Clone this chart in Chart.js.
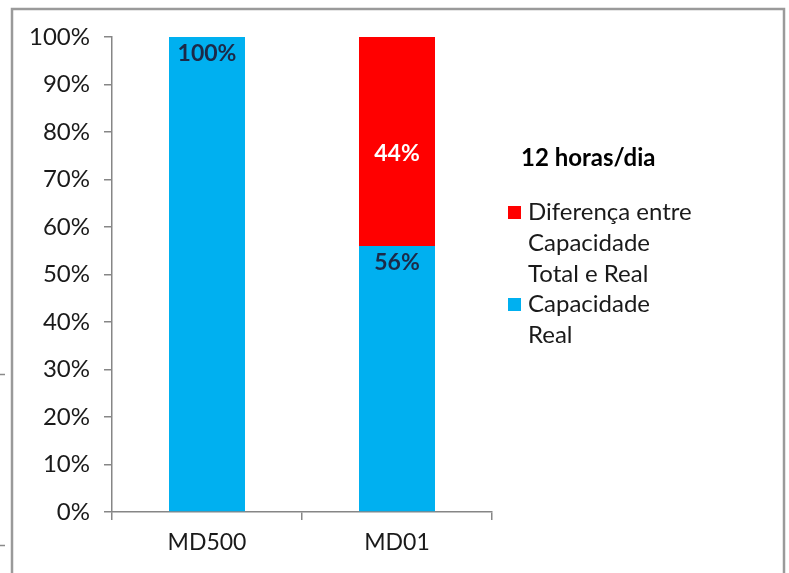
<!DOCTYPE html>
<html>
<head>
<meta charset="utf-8">
<script src="https://cdn.jsdelivr.net/npm/chart.js@4/dist/chart.umd.min.js"></script>
<style>
  html, body { margin: 0; padding: 0; background: #fff; }
  #wrap { width: 789px; height: 573px; position: relative; }
</style>
</head>
<body>
<div id="wrap"><canvas id="c" width="789" height="573"></canvas></div>
<script>
// Machines compared
const categories = ['MD500', 'MD01'];
// Real capacity used (%)
const realCapacity = [100, 56];
// Gap between total and real capacity (%)
const capacityGap = [0, 44];
// Y axis ticks (%)
const yTicks = [0, 10, 20, 30, 40, 50, 60, 70, 80, 90, 100];

const chartTitle = '12 horas/dia';
const legendLines = {
  gap: ['Diferença entre', 'Capacidade', 'Total e Real'],
  real: ['Capacidade', 'Real']
};

const FONT = 'Lato, "Open Sans", sans-serif';
const BLUE = '#00b0f0';
const RED = '#ff0000';
const AXIS = '#868686';

// White page with grey frame around the chart
const framePlugin = {
  id: 'frame',
  beforeDraw(chart) {
    const ctx = chart.ctx;
    ctx.save();
    ctx.fillStyle = '#fff';
    ctx.fillRect(0, 0, chart.width, chart.height);
    ctx.strokeStyle = '#9a9a9a';
    ctx.lineWidth = 2.5;
    ctx.strokeRect(12, 9, 772, 620);
    ctx.lineWidth = 1.5;
    ctx.strokeStyle = '#8a8a8a';
    ctx.beginPath();
    ctx.moveTo(0, 374.5); ctx.lineTo(5, 374.5);
    ctx.moveTo(0, 545.5); ctx.lineTo(5, 545.5);
    ctx.stroke();
    ctx.restore();
  }
};

// Value labels drawn inside the bars
const valueLabelPlugin = {
  id: 'valueLabels',
  afterDatasetsDraw(chart) {
    const ctx = chart.ctx;
    ctx.save();
    ctx.font = 'bold 23px ' + FONT;
    ctx.textAlign = 'center';
    ctx.textBaseline = 'middle';
    chart.data.datasets.forEach((ds, di) => {
      const meta = chart.getDatasetMeta(di);
      meta.data.forEach((el, i) => {
        const v = ds.data[i];
        if (!v) return;
        let y;
        if (ds.labelAnchor === 'end') {
          y = el.y + 17;
        } else {
          y = (el.y + el.base) / 2 + 12;
        }
        ctx.fillStyle = ds.labelColor;
        ctx.fillText(v + '%', el.x, y);
      });
    });
    ctx.restore();
  }
};

// Title and wrapped legend to the right of the plot
const sideLegendPlugin = {
  id: 'sideLegend',
  afterDraw(chart) {
    const ctx = chart.ctx;
    ctx.save();
    ctx.textBaseline = 'middle';
    ctx.textAlign = 'left';
    ctx.fillStyle = '#000';
    ctx.font = 'bold 24px ' + FONT;
    ctx.fillText(chartTitle, 521, 158);

    ctx.font = '24px ' + FONT;
    const ds = chart.data.datasets;
    const items = [
      { color: ds[1].backgroundColor, lines: legendLines.gap, y: 212 },
      { color: ds[0].backgroundColor, lines: legendLines.real, y: 304 }
    ];
    items.forEach(it => {
      ctx.fillStyle = it.color;
      ctx.fillRect(508, it.y - 6, 13, 13);
      ctx.fillStyle = '#1a1a1a';
      it.lines.forEach((t, k) => ctx.fillText(t, 528, it.y + k * 31));
    });
    ctx.restore();
  }
};

new Chart(document.getElementById('c'), {
  type: 'bar',
  data: {
    labels: categories,
    datasets: [
      {
        label: 'Capacidade Real',
        data: realCapacity,
        backgroundColor: BLUE,
        labelColor: '#1c2a48',
        labelAnchor: 'end',
        barPercentage: 0.4,
        categoryPercentage: 1.0
      },
      {
        label: 'Diferença entre Capacidade Total e Real',
        data: capacityGap,
        backgroundColor: RED,
        labelColor: '#ffffff',
        labelAnchor: 'center',
        barPercentage: 0.4,
        categoryPercentage: 1.0
      }
    ]
  },
  options: {
    responsive: false,
    animation: false,
    devicePixelRatio: 1,
    layout: { padding: { left: 0, right: 297, top: 37, bottom: 0 } },
    plugins: {
      legend: { display: false },
      tooltip: { enabled: false }
    },
    scales: {
      x: {
        stacked: true,
        grid: { display: true, drawOnChartArea: false, offset: true, tickLength: 8, color: AXIS, lineWidth: 1.5 },
        border: { color: AXIS, width: 1.5 },
        ticks: { color: '#1a1a1a', font: { family: FONT, size: 23 }, padding: 9 },
        afterFit(scale) { scale.height = 61; scale.paddingLeft = 0; scale.paddingRight = 0; }
      },
      y: {
        stacked: true,
        min: 0,
        max: 100,
        afterBuildTicks(scale) { scale.ticks = yTicks.map(v => ({ value: v })); },
        grid: { display: true, drawOnChartArea: false, tickLength: 8, color: AXIS, lineWidth: 1.5 },
        border: { color: AXIS, width: 1.5 },
        ticks: {
          color: '#1a1a1a',
          font: { family: FONT, size: 24 },
          padding: 14,
          callback: v => v + '%'
        },
        afterFit(scale) { scale.width = 112; scale.paddingTop = 0; scale.paddingBottom = 0; }
      }
    }
  },
  plugins: [framePlugin, valueLabelPlugin, sideLegendPlugin]
});
</script>
</body>
</html>
